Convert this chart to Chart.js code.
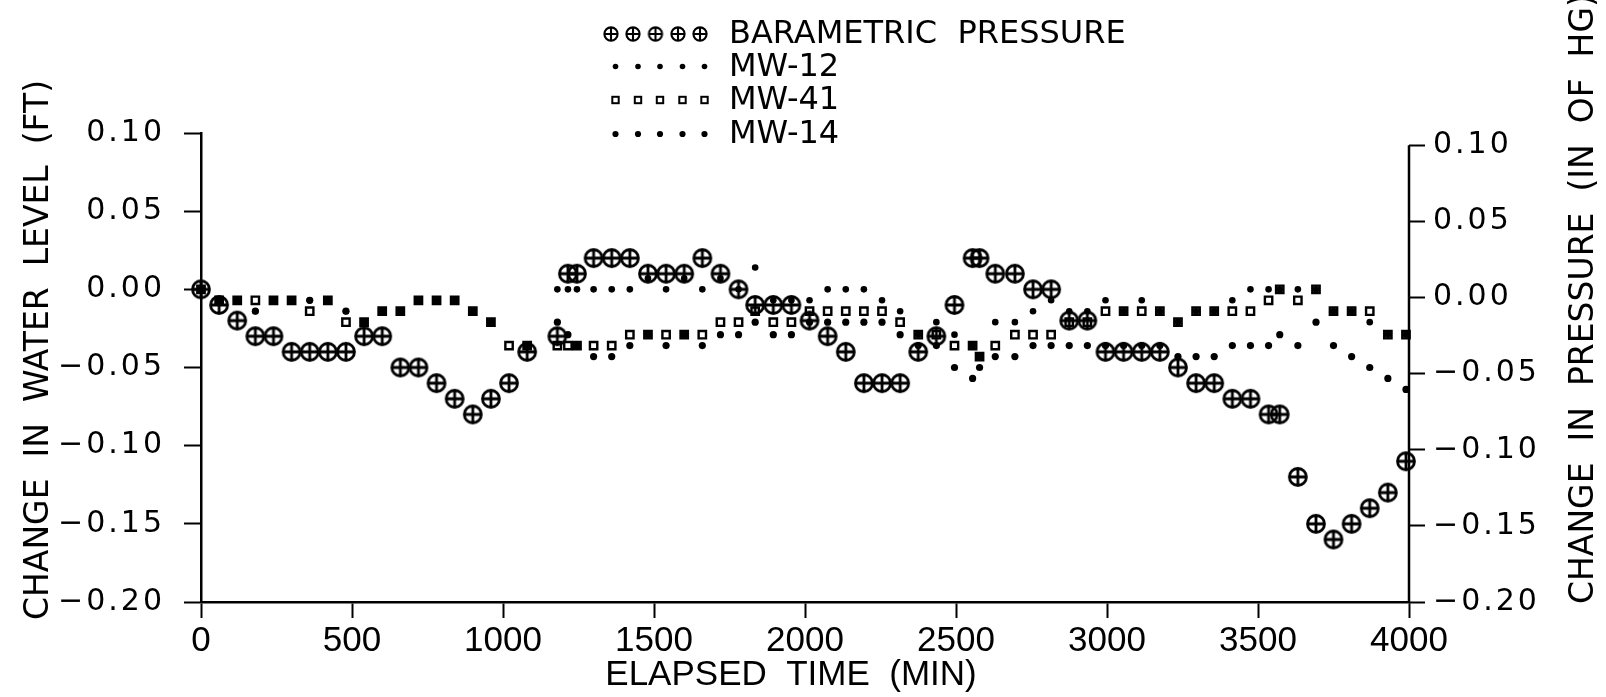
<!DOCTYPE html>
<html>
<head>
<meta charset="utf-8">
<title>Barometric pressure vs water level</title>
<script src="https://cdn.jsdelivr.net/npm/chart.js@4.4.0/dist/chart.umd.min.js"></script>
<style>
  html, body { margin: 0; padding: 0; background: #fff; }
  canvas { display: block; }
</style>
</head>
<body>
<canvas id="pressureChart" width="1606" height="697"></canvas>
<script>
// values (null = no mark visible)
const elapsedMin = [0, 60, 120, 180, 240, 300, 360, 420, 480, 540, 600, 660, 720, 780, 840, 900, 960, 1020, 1080,
  1180, 1215, 1245, 1300, 1360, 1420, 1480, 1540, 1600, 1660, 1720, 1780, 1835, 1895, 1955, 2015, 2075, 2135, 2195,
  2255, 2315, 2375, 2435, 2495, 2555, 2578, 2630, 2695, 2755, 2815, 2875, 2935, 2995, 3055, 3115, 3175, 3235, 3295,
  3355, 3415, 3475, 3535, 3572, 3632, 3692, 3750, 3810, 3870, 3930, 3990];

const baroPressure = [0, -0.01, -0.02, -0.03, -0.03, -0.04, -0.04, -0.04, -0.04, -0.03, -0.03, -0.05, -0.05, -0.06,
  -0.07, -0.08, -0.07, -0.06, -0.04, -0.03, 0.01, 0.01, 0.02, 0.02, 0.02, 0.01, 0.01, 0.01, 0.02, 0.01, 0, -0.01,
  -0.01, -0.01, -0.02, -0.03, -0.04, -0.06, -0.06, -0.06, -0.04, -0.03, -0.01, 0.02, 0.02, 0.01, 0.01, 0, 0, -0.02,
  -0.02, -0.04, -0.04, -0.04, -0.04, -0.05, -0.06, -0.06, -0.07, -0.07, -0.08, -0.08, -0.12, -0.15, -0.16, -0.15,
  -0.14, -0.13, -0.11];

const mw12 = [0, -0.007, -0.007, -0.014, -0.007, -0.007, -0.007, -0.007, -0.014, -0.021, -0.014, -0.014, -0.007,
  -0.007, -0.007, -0.014, -0.021, null, -0.036, 0, 0, 0, 0, 0, 0, 0.007, 0, 0.007, 0, 0.007, 0, 0.014, -0.007,
  -0.007, -0.007, 0, 0, 0, -0.007, -0.014, -0.029, -0.021, -0.029, -0.036, -0.043, -0.021, -0.021, -0.014, -0.007,
  -0.014, -0.014, -0.007, -0.014, -0.007, -0.014, -0.021, -0.014, -0.014, -0.007, 0, 0, 0, 0, 0, -0.014, -0.014,
  -0.021, -0.029, -0.029];

const mw41 = [0, -0.007, -0.007, -0.007, -0.007, -0.007, -0.014, -0.007, -0.021, -0.021, -0.014, -0.014, -0.007,
  -0.007, -0.007, -0.014, -0.021, -0.036, -0.036, -0.036, -0.036, -0.036, -0.036, -0.036, -0.029, -0.029, -0.029,
  -0.029, -0.029, -0.021, -0.021, -0.014, -0.021, -0.021, -0.014, -0.014, -0.014, -0.014, -0.014, -0.021, -0.029,
  -0.029, -0.036, -0.036, -0.043, -0.036, -0.029, -0.029, -0.029, -0.021, -0.021, -0.014, -0.014, -0.014, -0.014,
  -0.021, -0.014, -0.014, -0.014, -0.014, -0.007, 0, -0.007, 0, -0.014, -0.014, -0.014, -0.029, -0.029];

const mw14 = [0, -0.007, -0.007, -0.014, -0.007, -0.007, -0.007, -0.007, -0.014, -0.021, -0.014, -0.014, -0.007,
  -0.007, -0.007, -0.014, -0.021, null, -0.036, -0.021, -0.029, -0.036, -0.043, -0.043, -0.036, -0.029, -0.036,
  -0.029, -0.036, -0.029, -0.029, -0.021, -0.029, -0.029, -0.021, -0.021, -0.021, -0.021, -0.021, -0.029, -0.036,
  -0.036, -0.050, -0.057, -0.050, -0.043, -0.043, -0.036, -0.036, -0.036, -0.036, -0.036, -0.036, -0.036, -0.036,
  -0.043, -0.043, -0.043, -0.036, -0.036, -0.036, -0.029, -0.036, -0.021, -0.036, -0.043, -0.050, -0.057, -0.064];

const seriesNames = ['BARAMETRIC  PRESSURE', 'MW-12', 'MW-41', 'MW-14'];
const timeTicks = [0, 500, 1000, 1500, 2000, 2500, 3000, 3500, 4000];
const levelTicks = [-0.20, -0.15, -0.10, -0.05, 0.00, 0.05, 0.10];
const pressureTicks = [-0.20, -0.15, -0.10, -0.05, 0.00, 0.05, 0.10];

function toPoints(vals) {
  const pts = [];
  vals.forEach((v, i) => { if (v !== null) pts.push({ x: elapsedMin[i], y: v }); });
  return pts;
}

function fmtTick(v) {
  return (v < -1e-9 ? '\u2212' : '') + Math.abs(v).toFixed(2);
}

// circle-with-cross marker
function crossCircle(size, r, lw) {
  const c = document.createElement('canvas');
  c.width = size; c.height = size;
  const g = c.getContext('2d');
  const m = size / 2;
  g.strokeStyle = '#000';
  g.lineWidth = lw;
  g.beginPath();
  g.arc(m, m, r, 0, Math.PI * 2);
  g.moveTo(m - r, m); g.lineTo(m + r, m);
  g.moveTo(m, m - r); g.lineTo(m, m + r);
  g.stroke();
  return c;
}
const bigCross = crossCircle(24, 8.5, 2.8);
const smallCross = crossCircle(20, 6.6, 2.1);

// wider letter spacing on the y tick labels
const labelSpacing = { x: '0px', y: '3px', y2: '3px' };

const extras = {
  id: 'extras',
  beforeDraw(chart) {
    Object.values(chart.scales).forEach(s => {
      if (s._spaced) return;
      const orig = s.drawLabels;
      s.drawLabels = function (area) {
        const c = this.ctx;
        const prev = c.letterSpacing;
        c.letterSpacing = labelSpacing[this.id] || '0px';
        orig.call(this, area);
        c.letterSpacing = prev;
      };
      s._spaced = true;
    });
  },
  afterDraw(chart) {
    const c = chart.ctx;
    const area = chart.chartArea;
    const y2 = chart.scales.y2;
    c.save();
    c.fillStyle = '#000';
    c.strokeStyle = '#000';

    // right spine starts at the top tick
    c.lineWidth = 2.5;
    c.beginPath();
    c.moveTo(area.right, y2.getPixelForValue(pressureTicks[pressureTicks.length - 1]));
    c.lineTo(area.right, area.bottom);
    c.stroke();

    // legend
    const rows = [34, 66.5, 100, 134];
    c.font = '32px "DejaVu Sans"';
    c.textBaseline = 'middle';
    c.textAlign = 'left';
    rows.forEach((ry, i) => {
      if (i === 0) {
        [611, 633, 655.5, 678, 700].forEach(sx => c.drawImage(smallCross, sx - 10, ry - 10));
      } else {
        [615.5, 638, 660, 682.5, 704.5].forEach(sx => {
          if (i === 2) {
            c.lineWidth = 2;
            c.strokeRect(sx - 3.2, ry - 3.2, 6.4, 6.4);
          } else {
            c.beginPath();
            c.arc(sx, ry, i === 3 ? 3.1 : 2.8, 0, Math.PI * 2);
            c.fill();
          }
        });
      }
      c.fillText(seriesNames[i], 729, ry + 1);
    });

    // axis titles
    c.font = '33px "DejaVu Sans"';
    c.save();
    c.translate(39, 620);
    c.rotate(-Math.PI / 2);
    c.fillText('CHANGE  IN  WATER  LEVEL  (FT)', 0, 0);
    c.restore();
    c.save();
    c.translate(1584, 604);
    c.rotate(-Math.PI / 2);
    c.fillText('CHANGE  IN  PRESSURE  (IN  OF  HG)', 0, 0);
    c.restore();

    c.font = '35px "Liberation Sans"';
    c.textAlign = 'center';
    c.fillText('ELAPSED  TIME  (MIN)', 791, 675);
    c.restore();
  }
};

const ctx = document.getElementById('pressureChart').getContext('2d');
new Chart(ctx, {
  type: 'scatter',
  data: {
    datasets: [
      { label: seriesNames[0], data: toPoints(baroPressure), yAxisID: 'y',
        pointStyle: bigCross, pointRadius: 9, clip: false },
      { label: seriesNames[1], data: toPoints(mw12), yAxisID: 'y',
        pointStyle: 'circle', pointRadius: 3.3, backgroundColor: '#000', borderWidth: 0, clip: false },
      { label: seriesNames[2], data: toPoints(mw41), yAxisID: 'y',
        pointStyle: 'rect', pointRadius: 5.2, backgroundColor: 'rgba(0,0,0,0)', borderColor: '#000',
        borderWidth: 2.4, clip: false },
      { label: seriesNames[3], data: toPoints(mw14), yAxisID: 'y',
        pointStyle: 'circle', pointRadius: 3.6, backgroundColor: '#000', borderWidth: 0, clip: false }
    ]
  },
  options: {
    responsive: false,
    animation: false,
    events: [],
    layout: { padding: { top: 133, left: 0, right: 0, bottom: 0 } },
    plugins: { legend: { display: false }, tooltip: { enabled: false } },
    scales: {
      x: {
        type: 'linear', position: 'bottom', min: 0, max: 4000,
        afterBuildTicks: s => { s.ticks = timeTicks.map(v => ({ value: v })); },
        afterFit: s => { s.height = 95; },
        grid: { drawOnChartArea: false, tickLength: 16, tickWidth: 2, color: '#000' },
        border: { color: '#000', width: 2.5 },
        ticks: { color: '#000', padding: 2, maxRotation: 0, autoSkip: false,
          font: { family: 'Liberation Sans', size: 35 }, callback: v => String(v) }
      },
      y: {
        type: 'linear', position: 'left', min: -0.2, max: 0.1,
        afterBuildTicks: s => { s.ticks = levelTicks.map(v => ({ value: v })); },
        afterFit: s => { s.width = 201; },
        grid: { drawOnChartArea: false, tickLength: 17, tickWidth: 2, color: '#000' },
        border: { color: '#000', width: 2.5 },
        ticks: { color: '#000', padding: 19, font: { family: 'DejaVu Sans', size: 30 }, callback: fmtTick }
      },
      y2: {
        type: 'linear', position: 'right', min: -0.2, max: 0.108,
        afterBuildTicks: s => { s.ticks = pressureTicks.map(v => ({ value: v })); },
        afterFit: s => { s.width = 197; },
        grid: { drawOnChartArea: false, tickLength: 16, tickWidth: 2, color: '#000' },
        border: { display: false },
        ticks: { color: '#000', padding: 8, font: { family: 'DejaVu Sans', size: 30 }, callback: fmtTick }
      }
    }
  },
  plugins: [extras]
});
</script>
</body>
</html>
